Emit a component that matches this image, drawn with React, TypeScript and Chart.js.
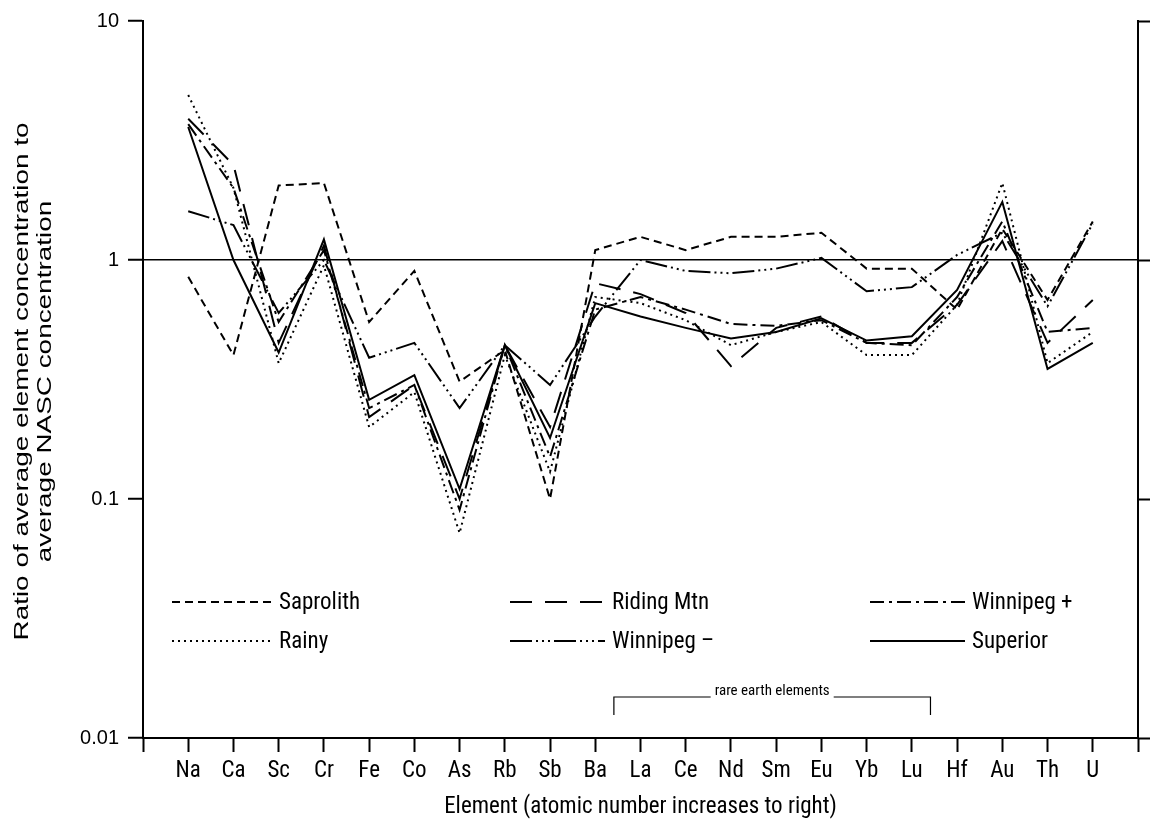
import { useEffect, useRef } from 'react';
import { Chart, registerables } from 'chart.js';

Chart.register(...registerables);

// Elements, ordered by atomic number
const elements = ['Na', 'Ca', 'Sc', 'Cr', 'Fe', 'Co', 'As', 'Rb', 'Sb', 'Ba', 'La', 'Ce', 'Nd', 'Sm', 'Eu', 'Yb', 'Lu', 'Hf', 'Au', 'Th', 'U'];
const yTickValues = [0.01, 0.1, 1, 10];
const yTitleLines = ['Ratio of average element concentration to', 'average NASC concentration'];

// Ratio of average element concentration to average NASC concentration
const saprolith = [0.85, 0.4, 2.05, 2.1, 0.55, 0.9, 0.31, 0.42, 0.1, 1.1, 1.25, 1.1, 1.25, 1.25, 1.3, 0.92, 0.92, 0.62, 1.35, 0.68, 1.45];
const rainy = [4.9, 2.0, 0.37, 0.95, 0.2, 0.28, 0.072, 0.4, 0.13, 0.7, 0.66, 0.56, 0.44, 0.5, 0.55, 0.4, 0.4, 0.65, 2.1, 0.37, 0.5];
const ridingMtn = [3.9, 2.5, 0.45, 1.15, 0.22, 0.3, 0.1, 0.44, 0.2, 0.8, 0.72, 0.6, 0.36, 0.52, 0.58, 0.45, 0.45, 0.65, 1.2, 0.45, 0.68];
const winnipegPlus = [3.7, 2.0, 0.55, 1.1, 0.24, 0.3, 0.09, 0.44, 0.15, 0.62, 0.7, 0.62, 0.54, 0.53, 0.56, 0.45, 0.44, 0.7, 1.45, 0.5, 0.52];
const winnipegMinus = [1.6, 1.4, 0.6, 1.0, 0.39, 0.45, 0.24, 0.44, 0.3, 0.58, 1.0, 0.9, 0.88, 0.92, 1.02, 0.74, 0.77, 1.05, 1.3, 0.64, 1.42];
const superior = [3.6, 1.0, 0.41, 1.22, 0.26, 0.33, 0.11, 0.44, 0.18, 0.66, 0.58, 0.52, 0.47, 0.5, 0.57, 0.46, 0.48, 0.75, 1.75, 0.35, 0.45];

const FONT = "'Liberation Sans Narrow', 'Roboto Condensed', 'DejaVu Sans Condensed', 'Liberation Sans', sans-serif";
const FONT_WIDE = "'Liberation Sans', Arial, sans-serif";

type SeriesDef = { label: string; values: number[]; dash: number[] };

const series: SeriesDef[] = [
  { label: 'Saprolith', values: saprolith, dash: [8, 5] },
  { label: 'Rainy', values: rainy, dash: [2, 4] },
  { label: 'Riding Mtn', values: ridingMtn, dash: [22, 13] },
  { label: 'Winnipeg –', values: winnipegMinus, dash: [22, 4, 2, 4, 2, 4, 2, 4] },
  { label: 'Winnipeg +', values: winnipegPlus, dash: [14, 5, 3, 5] },
  { label: 'Superior', values: superior, dash: [] },
];

// Legend laid out in three columns, two rows
const legendRows: string[][] = [
  ['Saprolith', 'Riding Mtn', 'Winnipeg +'],
  ['Rainy', 'Winnipeg –', 'Superior'],
];

const annotationPlugin = {
  id: 'legendAndBracket',
  afterDraw(chart: any) {
    const ctx = chart.ctx as CanvasRenderingContext2D;
    const xs = chart.scales.x;
    const ys = chart.scales.y;
    ctx.save();
    ctx.strokeStyle = '#000';
    ctx.fillStyle = '#000';

    // Vertical axis title, stretched along its baseline
    ctx.font = `21px ${FONT_WIDE}`;
    ctx.textAlign = 'center';
    ctx.textBaseline = 'middle';
    const stretch = 518 / ctx.measureText(yTitleLines[0]).width;
    const cy = (ys.top + ys.bottom) / 2 + 2;
    yTitleLines.forEach((t, i) => {
      ctx.save();
      ctx.translate(22 + i * 23, cy);
      ctx.rotate(-Math.PI / 2);
      ctx.scale(stretch, 1);
      ctx.fillText(t, 0, 0);
      ctx.restore();
    });

    // Legend
    ctx.lineWidth = 2;
    ctx.font = `23px ${FONT}`;
    const colSample = [[172, 272], [510, 605], [870, 965]];
    const rowY = [602, 641];
    legendRows.forEach((row, r) => {
      row.forEach((name, c) => {
        const s = series.find((d) => d.label === name)!;
        const [x0, x1] = colSample[c];
        ctx.setLineDash(s.dash);
        ctx.beginPath();
        ctx.moveTo(x0, rowY[r]);
        ctx.lineTo(x1, rowY[r]);
        ctx.stroke();
        ctx.setLineDash([]);
        ctx.textAlign = 'left';
        ctx.fillText(name, x1 + 7, rowY[r] + 1);
      });
    });

    // Bracket spanning the rare earth elements
    const bx0 = (xs.getPixelForValue(10) + xs.getPixelForValue(11)) / 2 - 4;
    const bx1 = (xs.getPixelForValue(17) + xs.getPixelForValue(18)) / 2 - 4;
    const by = 697;
    const label = 'rare earth elements';
    ctx.font = `15px ${FONT}`;
    const tw = ctx.measureText(label).width;
    const mid = (bx0 + bx1) / 2;
    ctx.lineWidth = 1.2;
    ctx.beginPath();
    ctx.moveTo(bx0, by + 18);
    ctx.lineTo(bx0, by);
    ctx.lineTo(mid - tw / 2 - 4, by);
    ctx.moveTo(mid + tw / 2 + 4, by);
    ctx.lineTo(bx1, by);
    ctx.lineTo(bx1, by + 18);
    ctx.stroke();
    ctx.textAlign = 'center';
    ctx.fillText(label, mid, by - 6);
    ctx.restore();
  },
};

export default function App() {
  const canvasRef = useRef<HTMLCanvasElement>(null);

  useEffect(() => {
    if (!canvasRef.current) return;
    const setYTicks = (scale: any) => {
      scale.ticks = yTickValues.map((v) => ({ value: v }));
    };
    const chart = new Chart(canvasRef.current, {
      type: 'line',
      data: {
        datasets: series.map((s) => ({
          label: s.label,
          data: s.values.map((v, i) => ({ x: i + 1, y: v })),
          borderColor: '#000',
          borderWidth: 2,
          borderDash: s.dash,
          pointRadius: 0,
          tension: 0,
          fill: false,
        })),
      },
      options: {
        animation: false,
        responsive: true,
        maintainAspectRatio: false,
        layout: { padding: { top: 19, left: 0, right: 0, bottom: 0 } },
        plugins: { legend: { display: false }, tooltip: { enabled: false } },
        scales: {
          x: {
            type: 'linear',
            min: 0,
            max: 22,
            afterBuildTicks: (scale: any) => {
              scale.ticks = Array.from({ length: 23 }, (_, i) => ({ value: i }));
            },
            afterFit: (scale: any) => {
              scale.height = 87;
            },
            border: { color: '#000', width: 2 },
            grid: { drawOnChartArea: false, tickLength: 14, tickColor: '#000', tickWidth: 2 },
            ticks: {
              autoSkip: false,
              maxRotation: 0,
              color: '#000',
              padding: 5,
              font: { family: FONT, size: 23 },
              callback: (v: any) => elements[Number(v) - 1] ?? '',
            },
            title: {
              display: true,
              text: 'Element (atomic number increases to right)',
              color: '#000',
              font: { family: FONT, size: 23 },
              padding: { top: 10, bottom: 4 },
            },
          },
          y: {
            type: 'logarithmic',
            position: 'left',
            min: 0.01,
            max: 10,
            afterBuildTicks: setYTicks,
            afterFit: (scale: any) => {
              scale.width = 143;
            },
            border: { color: '#000', width: 2 },
            grid: {
              color: (c: any) => (c.tick && c.tick.value === 1 ? '#000' : 'rgba(0,0,0,0)'),
              lineWidth: 1.5,
              tickLength: 15,
              tickColor: '#000',
              tickWidth: 2,
            },
            ticks: {
              autoSkip: false,
              color: '#000',
              padding: 9,
              font: { family: FONT_WIDE, size: 20 },
              callback: (v: any) => String(v),
            },
            title: { display: false },
          },
          y2: {
            type: 'logarithmic',
            position: 'right',
            min: 0.01,
            max: 10,
            afterBuildTicks: setYTicks,
            afterFit: (scale: any) => {
              scale.width = 15;
            },
            border: { color: '#000', width: 2 },
            grid: { drawOnChartArea: false, tickLength: 12, tickColor: '#000', tickWidth: 2 },
            ticks: { display: false },
          },
        },
      },
      plugins: [annotationPlugin],
    });
    return () => chart.destroy();
  }, []);

  return (
    <div style={{ position: 'fixed', left: 0, top: 0, width: 1153, height: 825, background: '#fff' }}>
      <canvas ref={canvasRef} />
    </div>
  );
}
